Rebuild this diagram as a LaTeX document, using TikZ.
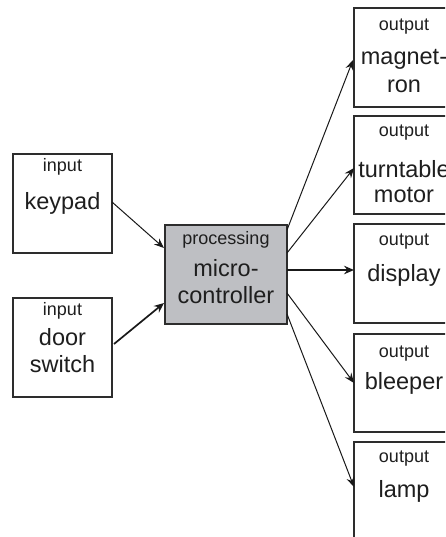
\documentclass[tikz,border=0pt]{standalone}
\usepackage{fontspec}
\setmainfont{Liberation Sans}
\usetikzlibrary{arrows.meta}
\definecolor{boxline}{RGB}{45,45,45}
\definecolor{procfill}{RGB}{190,191,195}
\definecolor{txt}{RGB}{30,30,30}
\begin{document}
\begin{tikzpicture}[x=1pt,y=-1pt,
  box/.style={draw=boxline,line width=1.3pt,minimum width=99pt,minimum height=99pt,inner sep=0pt,outer sep=0pt},
  obox/.style={box,minimum width=100pt},
  small/.style={anchor=base,inner sep=0pt,text=txt,font=\fontsize{18}{21}\selectfont},
  big/.style={anchor=base,inner sep=0pt,text=txt,font=\fontsize{23.5}{27}\selectfont},
  thin/.style={draw=black!90,line width=1pt,-{Stealth[length=10pt,width=8pt,inset=3.5pt]}},
  thick/.style={draw=black!90,line width=1.7pt,-{Stealth[length=10pt,width=8.5pt,inset=3.5pt]}}]
\useasboundingbox (0,0) rectangle (445,537);
\clip (0,0) rectangle (445,537);
% input boxes
\node[box] (kp) at (62.5,203.5) {};
\node[box] (ds) at (62.5,347.5) {};
\node[box,fill=procfill,minimum width=122pt] (mc) at (226,274.5) {};
% outputs
\node[obox] (mg) at (404,57.5) {};
\node[obox,minimum height=98pt] (tt) at (404,165) {};
\node[obox] (dp) at (404,273.5) {};
\node[obox,minimum height=98pt] (bl) at (404,383) {};
\node[obox] (lp) at (404,491.5) {};
% texts
\node[small] (kpa) at (62.5,172) {input};
\node[big] (kpb) at (62.5,209) {keypad};
\node[small] (dsa) at (62.5,315) {input};
\node[big] (dsb) at (62.5,345) {door};
\node[big] (dsc) at (62.5,372) {switch};
\node[small] (mca) at (226,244) {processing};
\node[big] (mcb) at (226,276) {micro-};
\node[big] (mcc) at (226,303) {controller};
\node[small] (mga) at (404,31) {output};
\node[big] (mgb) at (404,65) {magnet-};
\node[big] (mgc) at (404,93) {ron};
\node[small] (tta) at (404,137) {output};
\node[big] (ttb) at (404,178) {turntable};
\node[big] (ttc) at (404,202) {motor};
\node[small] (dpa) at (404,245) {output};
\node[big] (dpb) at (404,281) {display};
\node[small] (bla) at (404,357) {output};
\node[big] (blb) at (404,389) {bleeper};
\node[small] (lpa) at (404,462) {output};
\node[big] (lpb) at (404,497) {lamp};
% connectors
\draw[thin] ([yshift=1.5pt]kp.east) -- ([xshift=-1pt,yshift=26.5pt]mc.west);
\draw[thick] ([xshift=2pt,yshift=3.5pt]ds.east) -- ([xshift=-1pt,yshift=-28.5pt]mc.west);
\draw[thin] ([yshift=44.5pt]mc.east) -- ([xshift=-1pt,yshift=-2.5pt]mg.west);
\draw[thin] ([yshift=21.5pt]mc.east) -- ([yshift=-3pt]tt.west);
\draw[thick] ([yshift=4.5pt]mc.east) -- ([yshift=3.5pt]dp.west);
\draw[thin] ([yshift=-18.5pt]mc.east) -- (bl.west);
\draw[thin] ([yshift=-39.5pt]mc.east) -- ([yshift=4.5pt]lp.west);
\end{tikzpicture}
\end{document}
